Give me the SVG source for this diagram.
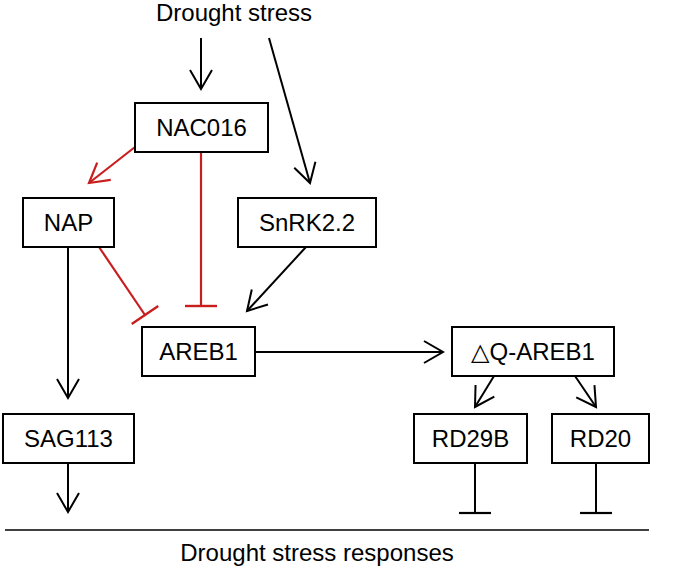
<svg xmlns="http://www.w3.org/2000/svg" width="681" height="569" viewBox="0 0 681 569">
<style>
.box{fill:#fff;stroke:#000;stroke-width:2}
.t{font-family:"Liberation Sans",Arial,"DejaVu Sans",sans-serif;font-size:24px;text-anchor:middle;fill:#000}
.k{fill:none;stroke:#000;stroke-width:2}
.r{fill:none;stroke:#c81e1e;stroke-width:2.2}
</style>
<defs>
<marker id="ak" markerUnits="userSpaceOnUse" markerWidth="40" markerHeight="40" viewBox="-25 -20 30 40" refX="0" refY="0" orient="auto" overflow="visible">
<path d="M-19,-11 L0,0 L-19,11" fill="none" stroke="#000" stroke-width="2"/>
</marker>
<marker id="ar" markerUnits="userSpaceOnUse" markerWidth="40" markerHeight="40" viewBox="-25 -20 30 40" refX="0" refY="0" orient="auto" overflow="visible">
<path d="M-19,-11 L0,0 L-19,11" fill="none" stroke="#c81e1e" stroke-width="2.2"/>
</marker>
<marker id="ik" markerUnits="userSpaceOnUse" markerWidth="40" markerHeight="40" viewBox="-5 -20 10 40" refX="0" refY="0" orient="auto" overflow="visible">
<path d="M0,-16 L0,16" fill="none" stroke="#000" stroke-width="2.2"/>
</marker>
<marker id="ir" markerUnits="userSpaceOnUse" markerWidth="40" markerHeight="40" viewBox="-5 -20 10 40" refX="0" refY="0" orient="auto" overflow="visible">
<path d="M0,-16 L0,16" fill="none" stroke="#c81e1e" stroke-width="2.4"/>
</marker>
</defs>
<text class="t" x="234" y="21">Drought stress</text>
<g id="connectors">
<line class="k" x1="201" y1="38" x2="201" y2="89" marker-end="url(#ak)"/>
<line class="k" x1="269" y1="38" x2="310" y2="183" marker-end="url(#ak)"/>
<line class="r" x1="135" y1="147" x2="89" y2="183" marker-end="url(#ar)"/>
<line class="r" x1="201" y1="152" x2="201" y2="306" marker-end="url(#ir)"/>
<line class="r" x1="99" y1="247" x2="145" y2="315" marker-end="url(#ir)"/>
<line class="k" x1="306" y1="247" x2="247" y2="311" marker-end="url(#ak)"/>
<line class="k" x1="68" y1="247" x2="68" y2="398" marker-end="url(#ak)"/>
<line class="k" x1="68" y1="463" x2="68" y2="512" marker-end="url(#ak)"/>
<line class="k" x1="255" y1="352" x2="443" y2="352" marker-end="url(#ak)"/>
<line class="k" x1="494" y1="376" x2="475" y2="407" marker-end="url(#ak)"/>
<line class="k" x1="575" y1="376" x2="596" y2="407" marker-end="url(#ak)"/>
<line class="k" x1="475" y1="463" x2="475" y2="513" marker-end="url(#ik)"/>
<line class="k" x1="596" y1="463" x2="596" y2="513" marker-end="url(#ik)"/>
</g>
<g id="NAC016"><rect class="box" x="135" y="103" width="133" height="49"/><text class="t" x="201.5" y="136">NAC016</text></g>
<g id="NAP"><rect class="box" x="23" y="198" width="91" height="49"/><text class="t" x="68.5" y="231">NAP</text></g>
<g id="SnRK2.2"><rect class="box" x="238" y="198" width="138" height="49"/><text class="t" x="307" y="231">SnRK2.2</text></g>
<g id="AREB1"><rect class="box" x="142" y="327" width="113" height="49"/><text class="t" x="198.5" y="360">AREB1</text></g>
<g id="dQ-AREB1"><rect class="box" x="452" y="327" width="162" height="49"/><text class="t" x="533" y="360">△Q-AREB1</text></g>
<g id="SAG113"><rect class="box" x="3" y="414" width="131" height="49"/><text class="t" x="68.5" y="447">SAG113</text></g>
<g id="RD29B"><rect class="box" x="414" y="414" width="113" height="49"/><text class="t" x="470.5" y="447">RD29B</text></g>
<g id="RD20"><rect class="box" x="552" y="414" width="97" height="49"/><text class="t" x="600.5" y="447">RD20</text></g>
<g id="responses">
<line x1="5" y1="530" x2="649" y2="530" stroke="#000" stroke-width="1.6"/>
<text class="t" x="317" y="561">Drought stress responses</text>
</g>
</svg>
